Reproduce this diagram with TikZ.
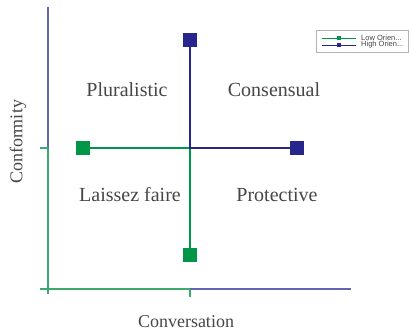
\documentclass[tikz,border=0pt]{standalone}
\usepackage{fontspec}
\setmainfont{Liberation Serif}
\newfontfamily\legendfont{Liberation Sans}
\usetikzlibrary{positioning}
\definecolor{lowgreen}{RGB}{0,150,72}
\definecolor{highblue}{RGB}{38,38,140}
\definecolor{axgreen}{RGB}{60,170,110}
\definecolor{axblue}{RGB}{100,100,180}
\definecolor{labelgrey}{RGB}{70,70,70}

\begin{document}
\begin{tikzpicture}[
  x=1pt,y=-1pt,
  low/.style={fill=lowgreen,minimum size=14pt,inner sep=0pt},
  high/.style={fill=highblue,minimum size=14pt,inner sep=0pt},
  quad/.style={text=labelgrey,font=\fontsize{20}{22}\selectfont},
  axlabel/.style={text=labelgrey,font=\fontsize{18}{20}\selectfont},
  lowline/.style={draw=lowgreen,line width=2.6pt},
  highline/.style={draw=highblue,line width=2.6pt},
  legmark/.style={minimum size=4.5pt,inner sep=0pt},
  legtext/.style={text=labelgrey,font=\legendfont\fontsize{7.5}{8}\selectfont,anchor=west,inner sep=0pt}
]
  \useasboundingbox (0,0) rectangle (409,334);
  % axes
  \coordinate (o) at (48,289);
  \coordinate (ytop) at (48,7);
  \coordinate (ymid) at (48,148);
  \coordinate (ybot) at (48,294);
  \coordinate (xleft) at (40,289);
  \coordinate (xmid) at (190,289);
  \coordinate (xright) at (351,289);
  \draw[axblue,line width=1.3pt] (ytop) -- (ymid);
  \draw[axgreen,line width=1.3pt] (ymid) -- (ybot);
  \draw[axgreen,line width=1.3pt] (ymid) -- ++(-8,0);
  \draw[axgreen,line width=1.3pt] (xleft) -- (xmid);
  \draw[axblue,line width=1.3pt] (xmid) -- (xright);
  \draw[axgreen,line width=1.3pt] (xmid) -- ++(0,8);
  \node[axlabel,rotate=90] (conf) at (18,142) {Conformity};
  \node[axlabel] (conv) at (186,322) {Conversation};

  % data
  \coordinate (c) at (190,148);
  \node[high] (htop) at (190,40) {};
  \node[high] (hright) at (297,148) {};
  \node[low] (lleft) at (83,148) {};
  \node[low] (lbot) at (190,255) {};
  \draw[lowline] (lleft) -- (c) -- (lbot);
  \draw[highline] (htop) -- (c) -- (hright);

  % quadrants
  \node[quad] (plur) at (127,90) {Pluralistic};
  \node[quad] (cons) at (274,90) {Consensual};
  \node[quad] (lais) at (130,195) {Laissez faire};
  \node[quad] (prot) at (277,195) {Protective};

  % legend
  \draw[gray!60,line width=0.6pt] (316,30) rectangle (408.5,52);
  \coordinate (la) at (322,38);
  \coordinate (lb) at (356,38);
  \coordinate (ha) at (322,45);
  \coordinate (hb) at (356,45);
  \draw[lowgreen,line width=0.8pt] (la) -- (lb);
  \draw[highblue,line width=0.8pt] (ha) -- (hb);
  \node[legmark,fill=lowgreen] (lm) at (339,38) {};
  \node[legmark,fill=highblue] (hm) at (339,45) {};
  \node[legtext] (lt) at (361,38) {Low Orien...};
  \node[legtext] (ht) at (361,45) {High Orien...};
\end{tikzpicture}
\end{document}
